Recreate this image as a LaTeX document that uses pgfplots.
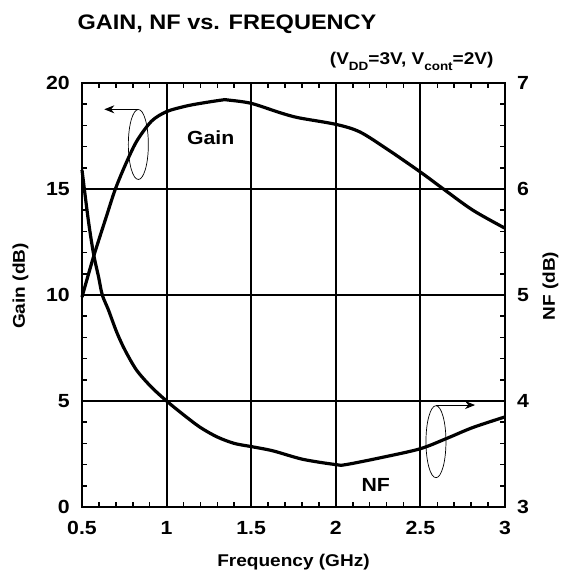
\documentclass[border=0pt]{standalone}
\usepackage{fontspec}
\setmainfont{Liberation Sans}[FakeStretch=1.12]
\usepackage{pgfplots}
\pgfplotsset{compat=1.18}
\usetikzlibrary{arrows.meta}

\newcommand{\fs}[1]{\fontsize{#1}{#1}\selectfont\bfseries}

\begin{document}
\begin{tikzpicture}
\path[use as bounding box] (-82pt,-66pt) rectangle (480pt,507pt);
% gain axis (left)
\begin{axis}[
  scale only axis, width=423pt, height=424pt,
  xmin=0.5, xmax=3, ymin=0, ymax=20,
  xtick={0.5,1,1.5,2,2.5,3}, ytick={0,5,10,15,20},
  minor x tick num=4, minor y tick num=4,
  ytick pos=left, xtick pos=both,
  tick align=inside,
  major tick length=0pt, minor tick length=5pt,
  every tick/.style={black, line width=1.6pt},
  axis line style={line width=2.2pt},
  grid=major, major grid style={black, line width=2pt},
  /pgf/number format/assume math mode=true,
  tick label style={font=\fs{19}},
  xticklabel style={inner sep=0pt, yshift=-14pt},
  yticklabel style={inner sep=0pt, xshift=-12pt},
  xlabel={Frequency (GHz)},
  xlabel style={font=\fs{17}, at={(axis description cs:0.5,0)}, anchor=base, yshift=-59pt},
  ylabel={Gain (dB)},
  ylabel style={font=\fs{17}, at={(axis description cs:-0.135,0.521)}, anchor=base},
  clip=false,
]
\addplot[black, line width=3.2pt, smooth, tension=0.5] coordinates {
  (0.5,9.9) (0.568,11.8) (0.646,13.75) (0.695,14.95) (0.754,16.1)
  (0.823,17.25) (0.911,18.2) (1.0,18.65) (1.109,18.9) (1.2,19.04)
  (1.33,19.2) (1.36,19.2) (1.5,19.04) (1.67,18.6) (1.78,18.36)
  (2.0,18.05) (2.14,17.7) (2.3,16.9) (2.5,15.8) (2.636,15.0)
  (2.81,14.0) (3.0,13.15)
};
\draw[line width=0.7pt] (axis cs:0.833,17.1) ellipse [x radius=10pt, y radius=35pt];
\draw[line width=0.9pt, -{Stealth[length=10pt,width=8pt]}] (axis cs:0.833,18.76) -- (axis cs:0.632,18.76);
\draw[line width=0.7pt] (axis cs:2.592,3.08) ellipse [x radius=10pt, y radius=36pt];
\draw[line width=0.9pt, -{Stealth[length=10pt,width=8pt]}] (axis cs:2.592,4.81) -- (axis cs:2.823,4.81);
\node[font=\fs{19}] at (axis cs:1.261,17.43) {Gain};
\node[font=\fs{19}] at (axis cs:2.236,1.04) {NF};
\node[font=\fs{21}, anchor=base west] at ([xshift=-8pt, yshift=53pt]rel axis cs:0,1) {GAIN, NF vs. FREQUENCY};
\node[font=\fs{17}, anchor=base east] at ([xshift=-8pt, yshift=18pt]rel axis cs:1,1)
  {(V\raisebox{-6pt}{\fs{12}DD}=3V, V\raisebox{-6pt}{\fs{12}cont}=2V)};
\end{axis}
% NF axis (right)
\begin{axis}[
  scale only axis, width=423pt, height=424pt,
  xmin=0.5, xmax=3, ymin=3, ymax=7,
  axis x line=none, axis y line*=right,
  ytick={3,4,5,6,7}, minor y tick num=4,
  tick align=inside,
  major tick length=0pt, minor tick length=5pt,
  every tick/.style={black, line width=1.6pt},
  axis line style={line width=2.2pt},
  /pgf/number format/assume math mode=true,
  tick label style={font=\fs{19}},
  yticklabel style={inner sep=0pt, xshift=12pt},
  ylabel={NF (dB)},
  ylabel style={font=\fs{17}, at={(axis description cs:1.118,0.521)}, anchor=base},
  clip=false,
]
\addplot[black, line width=3.2pt, smooth, tension=0.5] coordinates {
  (0.5,6.18) (0.537,5.71) (0.568,5.39) (0.598,5.17) (0.62,5.0)
  (0.656,4.86) (0.705,4.65) (0.754,4.48) (0.823,4.29) (0.911,4.13)
  (1.0,4.0) (1.1,3.87) (1.2,3.75) (1.3,3.66) (1.4,3.60) (1.5,3.57)
  (1.628,3.53) (1.805,3.45) (2.0,3.40) (2.06,3.40) (2.28,3.47)
  (2.5,3.55) (2.66,3.65) (2.81,3.75) (3.0,3.85)
};
\end{axis}
\end{tikzpicture}
\end{document}
